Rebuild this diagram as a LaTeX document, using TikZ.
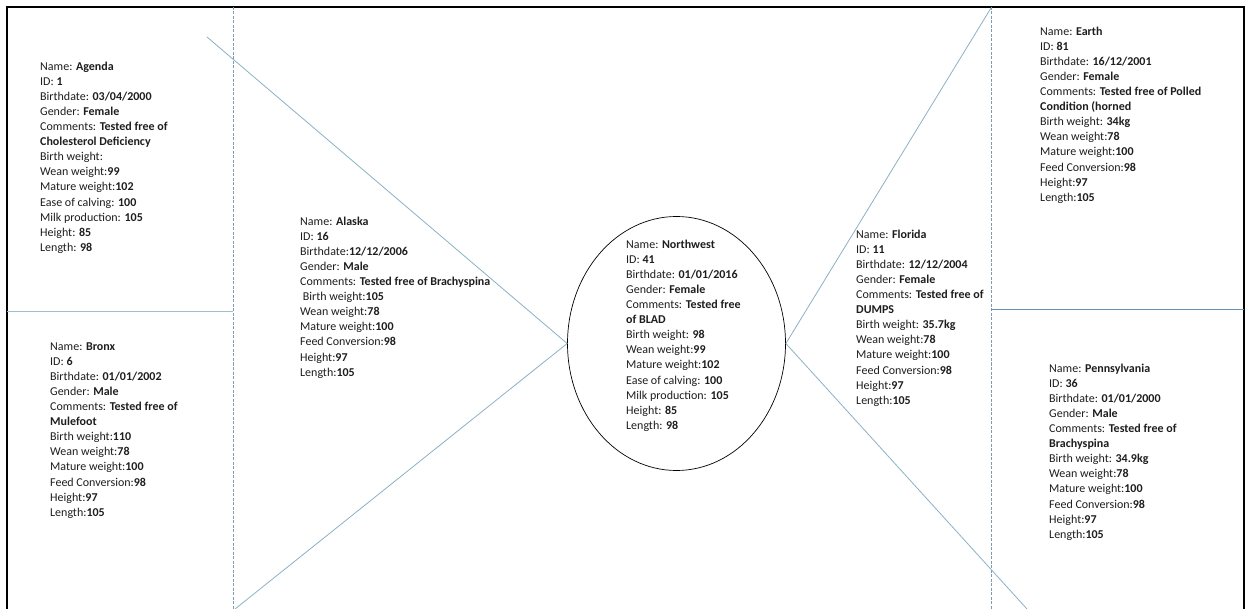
\documentclass[tikz,border=0pt]{standalone}
\usepackage{fontspec}
\setmainfont{Carlito}
\usetikzlibrary{shapes.geometric}
\definecolor{inkc}{RGB}{30,30,30}
\definecolor{linec}{RGB}{140,178,196}
\definecolor{dashc}{RGB}{128,156,178}
\definecolor{sepl}{RGB}{160,190,202}
\definecolor{sepr}{RGB}{100,145,190}
\newcommand{\rec}[1]{\begin{tabular}[t]{@{}l@{}}#1\end{tabular}}
\tikzset{
  card/.style={anchor=base west, inner sep=0pt, text=inkc,
    font=\fontsize{12}{15.1}\selectfont},
  guide/.style={draw=linec, line width=0.8pt},
  divider/.style={draw=dashc, line width=0.7pt, dash pattern=on 3pt off 1.5pt},
  frame/.style={draw=black, line width=2pt},
}
\begin{document}
\begin{tikzpicture}[x=1pt,y=-1pt]
\fill[white] (0,0) rectangle (1250,609);
\useasboundingbox (0,0) rectangle (1250,609);

% outer frame (open at the bottom)
\draw[frame] (7,609) -- (7,7) -- (1244,7) -- (1244,609);

% column dividers and panel separators
\coordinate (dl0) at (233,7);   \coordinate (dl1) at (233,609);
\coordinate (dr0) at (991,7);   \coordinate (dr1) at (991,609);
\draw[divider] (dl0) -- (dl1);
\draw[divider] (dr0) -- (dr1);
\coordinate (hl0) at (7,311);   \coordinate (hl1) at (233,311);
\coordinate (hr0) at (991,309); \coordinate (hr1) at (1244,309);
\draw[draw=sepl, line width=0.8pt] (hl0) -- (hl1);
\draw[draw=sepr, line width=0.8pt] (hr0) -- (hr1);

% central record
\node[draw=black, line width=0.7pt, ellipse, minimum width=218pt,
      minimum height=254pt, inner sep=0pt] (nw) at (676.5,343.5) {};

% wings
\coordinate (ul) at (207,37);
\coordinate (bl) at (235,609);
\coordinate (ur) at (991,8);
\coordinate (br) at (1027,609);
\draw[guide] (ul) -- (nw.west) -- (bl);
\draw[guide] (ur) -- (nw.east) -- (br);

% records
\node[card] (agenda) at (40,70.2) {\rec{%
Name: \textbf{Agenda}\\
ID: \textbf{1}\\
Birthdate: \textbf{03/04/2000}\\
Gender: \textbf{Female}\\
Comments: \textbf{Tested free of}\\
\textbf{Cholesterol Deficiency}\\
Birth weight:\\
Wean weight:\textbf{99}\\
Mature weight:\textbf{102}\\
Ease of calving: \textbf{100}\\
Milk production: \textbf{105}\\
Height: \textbf{85}\\
Length: \textbf{98}}};

\node[card] (bronx) at (50,350.2) {\rec{%
Name: \textbf{Bronx}\\
ID: \textbf{6}\\
Birthdate: \textbf{01/01/2002}\\
Gender: \textbf{Male}\\
Comments: \textbf{Tested free of}\\
\textbf{Mulefoot}\\
Birth weight:\textbf{110}\\
Wean weight:\textbf{78}\\
Mature weight:\textbf{100}\\
Feed Conversion:\textbf{98}\\
Height:\textbf{97}\\
Length:\textbf{105}}};

\node[card] (alaska) at (300,225.2) {\rec{%
Name: \textbf{Alaska}\\
ID: \textbf{16}\\
Birthdate:\textbf{12/12/2006}\\
Gender: \textbf{Male}\\
Comments: \textbf{Tested free of Brachyspina}\\
\ Birth weight:\textbf{105}\\
Wean weight:\textbf{78}\\
Mature weight:\textbf{100}\\
Feed Conversion:\textbf{98}\\
Height:\textbf{97}\\
Length:\textbf{105}}};

\node[card] (northwest) at (626,248.2) {\rec{%
Name: \textbf{Northwest}\\
ID: \textbf{41}\\
Birthdate: \textbf{01/01/2016}\\
Gender: \textbf{Female}\\
Comments: \textbf{Tested free}\\
\textbf{of BLAD}\\
Birth weight: \textbf{98}\\
Wean weight:\textbf{99}\\
Mature weight:\textbf{102}\\
Ease of calving: \textbf{100}\\
Milk production: \textbf{105}\\
Height: \textbf{85}\\
Length: \textbf{98}}};

\node[card] (florida) at (856,238.2) {\rec{%
Name: \textbf{Florida}\\
ID: \textbf{11}\\
Birthdate: \textbf{12/12/2004}\\
Gender: \textbf{Female}\\
Comments: \textbf{Tested free of}\\
\textbf{DUMPS}\\
Birth weight: \textbf{35.7kg}\\
Wean weight:\textbf{78}\\
Mature weight:\textbf{100}\\
Feed Conversion:\textbf{98}\\
Height:\textbf{97}\\
Length:\textbf{105}}};

\node[card] (earth) at (1040,35.2) {\rec{%
Name: \textbf{Earth}\\
ID: \textbf{81}\\
Birthdate: \textbf{16/12/2001}\\
Gender: \textbf{Female}\\
Comments: \textbf{Tested free of Polled}\\
\textbf{Condition (horned}\\
Birth weight: \textbf{34kg}\\
Wean weight:\textbf{78}\\
Mature weight:\textbf{100}\\
Feed Conversion:\textbf{98}\\
Height:\textbf{97}\\
Length:\textbf{105}}};

\node[card] (penn) at (1049,372.2) {\rec{%
Name: \textbf{Pennsylvania}\\
ID: \textbf{36}\\
Birthdate: \textbf{01/01/2000}\\
Gender: \textbf{Male}\\
Comments: \textbf{Tested free of}\\
\textbf{Brachyspina}\\
Birth weight: \textbf{34.9kg}\\
Wean weight:\textbf{78}\\
Mature weight:\textbf{100}\\
Feed Conversion:\textbf{98}\\
Height:\textbf{97}\\
Length:\textbf{105}}};
\end{tikzpicture}
\end{document}
